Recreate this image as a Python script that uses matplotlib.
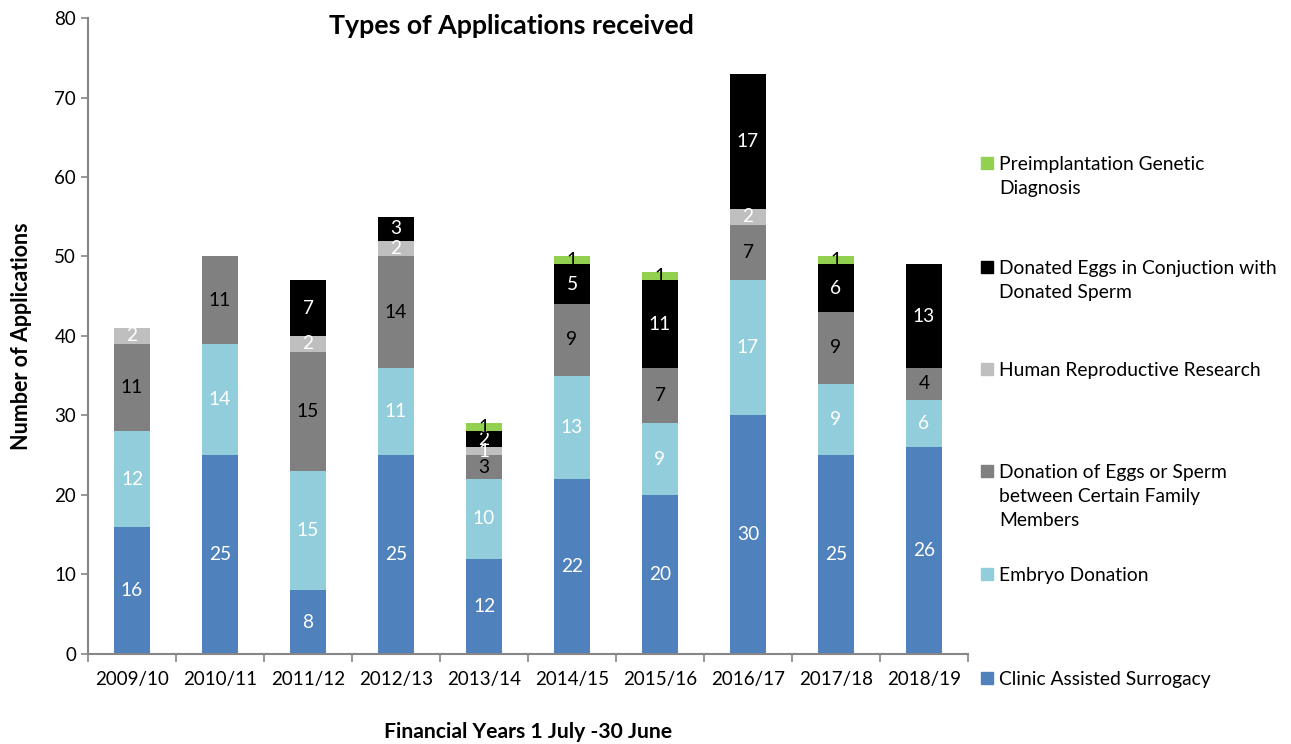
import matplotlib
matplotlib.use("Agg")
import matplotlib.pyplot as plt
from matplotlib.patches import Rectangle
import numpy as np

plt.rcParams['font.family'] = ['Lato', 'DejaVu Sans']

years = ["2009/10", "2010/11", "2011/12", "2012/13", "2013/14",
         "2014/15", "2015/16", "2016/17", "2017/18", "2018/19"]

surrogacy  = [16, 25, 8, 25, 12, 22, 20, 30, 25, 26]
embryo     = [12, 14, 15, 11, 10, 13, 9, 17, 9, 6]
family     = [11, 11, 15, 14, 3, 9, 7, 7, 9, 4]
research   = [2, 0, 2, 2, 1, 0, 0, 2, 0, 0]
donated    = [0, 0, 7, 3, 2, 5, 11, 17, 6, 13]
pgd        = [0, 0, 0, 0, 1, 1, 1, 0, 1, 0]

series_names = ["Clinic Assisted Surrogacy", "Embryo Donation",
                "Donation of Eggs or Sperm\nbetween Certain Family\nMembers",
                "Human Reproductive Research",
                "Donated Eggs in Conjuction with\nDonated Sperm",
                "Preimplantation Genetic\nDiagnosis"]
series_vals = [surrogacy, embryo, family, research, donated, pgd]
colors = ["#4F81BD", "#92CDDC", "#808080", "#BFBFBF", "#000000", "#92D050"]
txt_colors = ["white", "white", "black", "white", "white", "black"]

fig = plt.figure(figsize=(12.91, 7.44), dpi=100)
ax = fig.add_axes([0.0682, 0.121, 0.6816, 0.8548])

x = np.arange(len(years))
bottom = np.zeros(len(years))
for vals, c, tc in zip(series_vals, colors, txt_colors):
    v = np.array(vals, dtype=float)
    ax.bar(x, v, 0.4, bottom=bottom, color=c, edgecolor="none", zorder=2)
    for xi, b, val in zip(x, bottom, v):
        if val > 0:
            ax.text(xi, b + val / 2, f"{int(val)}", ha="center", va="center",
                    color=tc, fontsize=13.8, zorder=3)
    bottom += v

ax.set_xlim(-0.5, len(years) - 0.5)
ax.set_ylim(0, 80)
ax.set_yticks(range(0, 81, 10))
ax.set_xticks(x)
ax.set_xticklabels(years)
ax.set_xticks(np.arange(-0.5, len(years)), minor=True)
ax.tick_params(axis="x", which="major", length=0, pad=12, labelsize=13.5)
ax.tick_params(axis="x", which="minor", length=6, width=1.2, color="#868686")
ax.tick_params(axis="y", length=5, width=1.2, color="#868686", labelsize=13.5)
for s in ["top", "right"]:
    ax.spines[s].set_visible(False)
for s in ["left", "bottom"]:
    ax.spines[s].set_color("#868686")
    ax.spines[s].set_linewidth(1.5)

ax.set_ylabel("Number of Applications", fontsize=15.5, fontweight="bold", labelpad=16)
ax.set_xlabel("Financial Years 1 July -30 June", fontsize=15.2, fontweight="bold", labelpad=25)
fig.text(0.396, 0.965, "Types of Applications received", ha="center", va="center",
         fontsize=19.3, fontweight="bold")

# legend, drawn by hand (top entry is the last series)
W, H = 1291, 744
leg_y = [678, 574, 471, 369, 267, 163]
for name, c, yy in zip(series_names, colors, leg_y):
    fig.patches.append(Rectangle((981 / W, 1 - (yy + 6) / H), 12 / W, 12 / H,
                                 transform=fig.transFigure, color=c))
    fig.text(999 / W, 1 - (yy - 7) / H, name, ha="left", va="top",
             fontsize=13.9, linespacing=1.5)

fig.savefig("out.png", dpi=100)
